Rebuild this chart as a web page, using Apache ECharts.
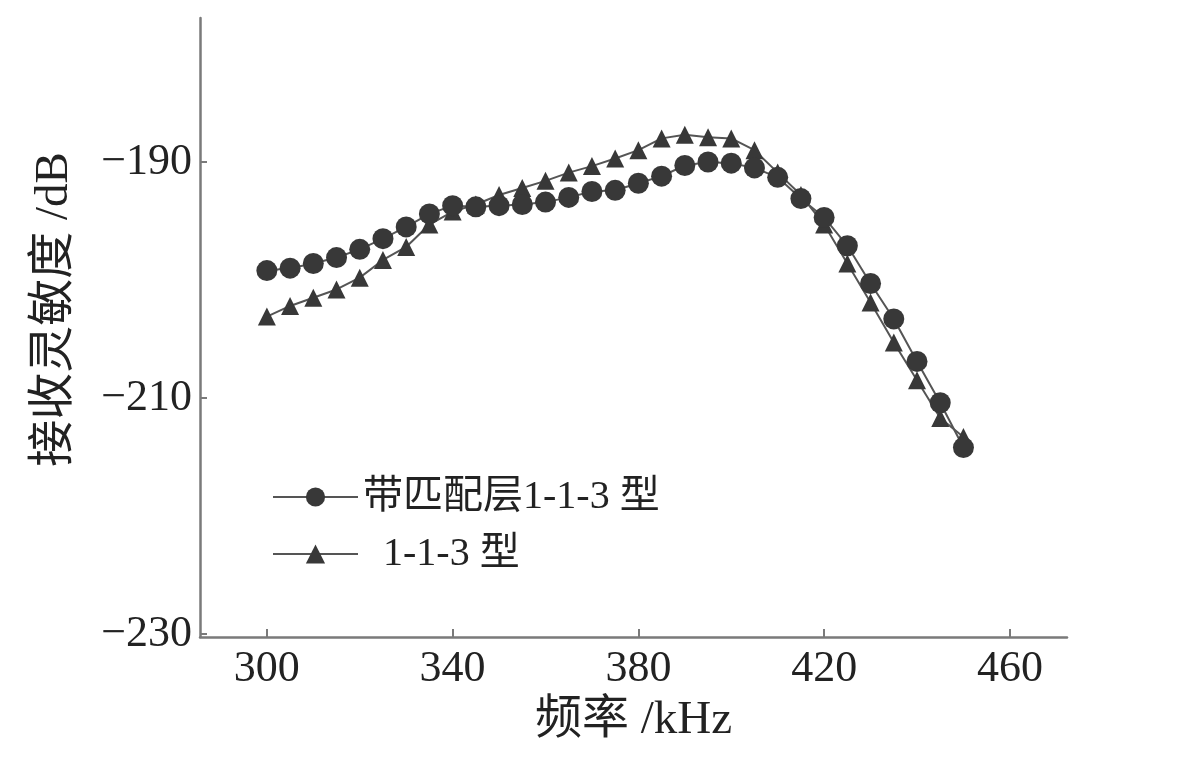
<!DOCTYPE html>
<html>
<head>
<meta charset="utf-8">
<script src="https://cdn.jsdelivr.net/npm/echarts@6/dist/echarts.min.js"></script>
<style>html,body{margin:0;padding:0;background:#fff}#c{width:1200px;height:763px}</style>
</head>
<body>
<div id="c"></div>
<script>
const freqs = [300,305,310,315,320,325,330,335,340,345,350,355,360,365,370,375,380,385,390,395,400,405,410,415,420,425,430,435,440,445,450];
const matched = [-199.2,-199.0,-198.6,-198.1,-197.4,-196.5,-195.5,-194.4,-193.7,-193.8,-193.7,-193.6,-193.4,-193.0,-192.5,-192.4,-191.8,-191.2,-190.3,-190.0,-190.1,-190.5,-191.3,-193.1,-194.7,-197.1,-200.3,-203.3,-206.9,-210.4,-214.2];
const plain = [-203.1,-202.2,-201.5,-200.8,-199.8,-198.3,-197.2,-195.3,-194.2,-193.6,-192.8,-192.2,-191.6,-190.9,-190.35,-189.7,-189.0,-188.0,-187.7,-187.9,-188.0,-189.0,-190.9,-192.8,-195.3,-198.6,-201.9,-205.3,-208.5,-211.7,-213.3];
const xTicks = [300,340,380,420,460];
const yTicks = [-230,-210,-190];
const nameMatched = '带匹配层1-1-3 型';
const namePlain = '1-1-3 型';
const xName = '频率 /kHz';
const yName = '接收灵敏度 /dB';

const FONT = '"Liberation Serif","Noto Sans CJK SC",serif';
const txt = '#222';
const axisCol = '#7a7a7a';
const mk = '#383838';

const chart = echarts.init(document.getElementById('c'), null, {renderer:'canvas'});
chart.setOption({
  animation:false,
  backgroundColor:'#fff',
  grid:{left:200, right:133, top:18, bottom:126},
  xAxis:{
    type:'value', min:285.6, max:472.3,
    name:xName, nameLocation:'middle', nameGap:60,
    nameTextStyle:{fontFamily:FONT, fontSize:47, color:txt},
    axisLine:{show:true, lineStyle:{color:axisCol, width:2.5}},
    axisTick:{show:true, inside:true, length:8, customValues:xTicks, lineStyle:{color:axisCol, width:2}},
    axisLabel:{customValues:xTicks, fontFamily:FONT, fontSize:44, color:txt, margin:10},
    splitLine:{show:false}
  },
  yAxis:{
    type:'value', min:-230.25, max:-177.8,
    name:yName, nameLocation:'middle', nameGap:122, nameRotate:90,
    nameTextStyle:{fontFamily:FONT, fontSize:47, color:txt, padding:[0,0,0,36]},
    axisLine:{show:true, lineStyle:{color:axisCol, width:2.5}},
    axisTick:{show:true, inside:true, length:7, customValues:yTicks, lineStyle:{color:axisCol, width:2}},
    axisLabel:{customValues:yTicks, fontFamily:FONT, fontSize:44, color:txt, margin:8,
      formatter:v=>'\u2212'+Math.abs(v)},
    splitLine:{show:false}
  },
  legend:{
    orient:'vertical', left:267, top:472,
    data:[nameMatched, namePlain],
    itemWidth:85, itemHeight:24, itemGap:17,
    textStyle:{fontFamily:FONT, fontSize:40, color:txt, lineHeight:40},
    formatter:n=> n===namePlain ? '  '+n : n
  },
  series:[
    {
      name:namePlain, type:'line',
      data:freqs.map((f,i)=>[f, plain[i]]),
      symbol:'triangle', symbolSize:18,
      itemStyle:{color:mk},
      lineStyle:{color:'#555', width:2}
    },
    {
      name:nameMatched, type:'line',
      data:freqs.map((f,i)=>[f, matched[i]]),
      symbol:'circle', symbolSize:21,
      itemStyle:{color:mk},
      lineStyle:{color:'#555', width:2}
    }
  ]
});
</script>
</body>
</html>
